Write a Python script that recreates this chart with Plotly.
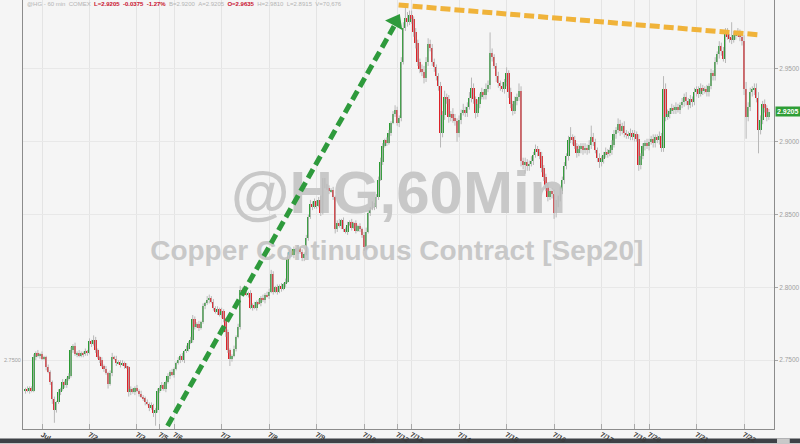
import plotly.graph_objects as go

# ---------------- data (hourly bars, HG Sep20 copper) ----------------
closes = [
    2.730, 2.729, 2.731, 2.729, 2.752, 2.755, 2.753, 2.754, 2.751, 2.752, 2.745, 2.742, 2.735, 2.723, 2.716, 2.721, 2.728, 2.730, 2.735, 2.733,
    2.737, 2.739, 2.757, 2.760, 2.754, 2.755, 2.753, 2.755, 2.754, 2.756, 2.755, 2.763, 2.761, 2.764, 2.757, 2.752, 2.750, 2.746, 2.744, 2.741,
    2.7335, 2.741, 2.752, 2.751, 2.748, 2.749, 2.747, 2.748, 2.746, 2.745, 2.728, 2.730, 2.728, 2.731, 2.729, 2.727, 2.725, 2.724, 2.721, 2.720,
    2.717, 2.719, 2.714, 2.716, 2.7285, 2.731, 2.733, 2.730, 2.735, 2.739, 2.742, 2.740, 2.744, 2.748, 2.750, 2.753, 2.750, 2.756, 2.758, 2.762,
    2.764, 2.778, 2.773, 2.775, 2.772, 2.776, 2.787, 2.789, 2.791, 2.793, 2.790, 2.786, 2.783, 2.785, 2.781, 2.784, 2.778, 2.769, 2.757, 2.751,
    2.753, 2.758, 2.766, 2.773, 2.798, 2.797, 2.799, 2.795, 2.796, 2.786, 2.788, 2.786, 2.790, 2.789, 2.793, 2.791, 2.795, 2.794, 2.797, 2.809,
    2.797, 2.800, 2.797, 2.801, 2.799, 2.802, 2.804, 2.821, 2.824, 2.822, 2.826, 2.825, 2.827, 2.824, 2.820, 2.823, 2.834, 2.848, 2.857, 2.855,
    2.859, 2.856, 2.860, 2.851, 2.873, 2.870, 2.868, 2.866, 2.867, 2.862, 2.840, 2.844, 2.842, 2.846, 2.840, 2.838, 2.843, 2.845, 2.841, 2.844,
    2.839, 2.842, 2.840, 2.836, 2.828, 2.838, 2.851, 2.854, 2.857, 2.855, 2.862, 2.874, 2.886, 2.897, 2.901, 2.899, 2.906, 2.913, 2.919, 2.922,
    2.913, 2.916, 2.955, 2.978, 2.985, 2.982, 2.987, 2.984, 2.975, 2.968, 2.955, 2.950, 2.948, 2.944, 2.955, 2.967, 2.964, 2.955, 2.951, 2.945,
    2.938, 2.906, 2.918, 2.931, 2.929, 2.917, 2.919, 2.916, 2.914, 2.906, 2.915, 2.920, 2.922, 2.920, 2.924, 2.930, 2.937, 2.929, 2.920, 2.926,
    2.931, 2.934, 2.932, 2.936, 2.939, 2.961, 2.958, 2.952, 2.945, 2.940, 2.938, 2.936, 2.941, 2.947, 2.934, 2.926, 2.921, 2.928, 2.931, 2.935,
    2.887, 2.884, 2.886, 2.883, 2.885, 2.887, 2.891, 2.895, 2.893, 2.890, 2.882, 2.876, 2.869, 2.862, 2.866, 2.864, 2.851, 2.858, 2.861, 2.866,
    2.874, 2.883, 2.890, 2.901, 2.903, 2.901, 2.897, 2.892, 2.895, 2.897, 2.894, 2.896, 2.894, 2.898, 2.903, 2.900, 2.894, 2.889, 2.886, 2.888,
    2.891, 2.893, 2.892, 2.894, 2.898, 2.905, 2.908, 2.912, 2.907, 2.911, 2.906, 2.905, 2.904, 2.906, 2.903, 2.905, 2.902, 2.884, 2.890, 2.897,
    2.899, 2.897, 2.900, 2.902, 2.899, 2.903, 2.901, 2.904, 2.896, 2.936, 2.917, 2.919, 2.921, 2.923, 2.922, 2.924, 2.922, 2.925, 2.927, 2.931,
    2.928, 2.925, 2.929, 2.927, 2.934, 2.936, 2.933, 2.937, 2.935, 2.936, 2.934, 2.938, 2.947, 2.945, 2.955, 2.960, 2.966, 2.962, 2.957, 2.975,
    2.972, 2.971, 2.970, 2.973, 2.974, 2.975, 2.972, 2.969, 2.936, 2.917, 2.924, 2.934, 2.936, 2.937, 2.930, 2.908, 2.915, 2.926, 2.923, 2.917,
    2.9205,
]
first_open = 2.729

# wick lengths above / below each body, in units of 0.001
wick_up = [
    1, 2, 1, 1, 2, 1, 2, 1, 2, 1, 1, 2, 1, 1, 2, 1, 2, 1, 2, 1,
    1, 2, 2, 1, 2, 1, 2, 1, 1, 2, 1, 2, 1, 3, 2, 1, 1, 2, 1, 2,
    1, 2, 3, 1, 2, 1, 1, 2, 1, 2, 1, 2, 1, 1, 2, 1, 2, 1, 1, 2,
    1, 2, 1, 1, 2, 1, 2, 1, 1, 2, 1, 2, 1, 1, 2, 1, 2, 1, 2, 1,
    2, 3, 2, 1, 2, 1, 2, 1, 3, 2, 1, 2, 1, 2, 1, 2, 1, 1, 2, 1,
    1, 2, 1, 2, 3, 2, 1, 2, 1, 2, 1, 2, 1, 2, 1, 2, 1, 2, 2, 3,
    2, 1, 2, 1, 2, 1, 2, 3, 2, 1, 2, 1, 2, 1, 2, 1, 2, 2, 3, 2,
    2, 1, 2, 3, 2, 2, 1, 2, 1, 2, 1, 2, 3, 1, 2, 1, 2, 1, 2, 1,
    2, 1, 2, 1, 2, 3, 2, 1, 2, 1, 2, 2, 3, 2, 1, 2, 2, 1, 2, 3,
    2, 2, 3, 4, 8, 4, 3, 3, 2, 3, 2, 2, 3, 4, 3, 4, 3, 3, 2, 2,
    2, 3, 3, 4, 2, 3, 2, 4, 3, 2, 3, 2, 4, 2, 3, 4, 7, 3, 2, 3,
    2, 3, 2, 4, 3, 14, 3, 2, 2, 3, 2, 3, 2, 4, 2, 3, 2, 3, 2, 5,
    3, 2, 3, 2, 2, 3, 2, 3, 2, 2, 3, 2, 2, 3, 2, 2, 3, 2, 2, 3,
    2, 3, 2, 3, 7, 2, 3, 2, 3, 2, 2, 3, 2, 3, 8, 3, 2, 2, 3, 2,
    2, 3, 2, 2, 3, 3, 2, 4, 3, 2, 3, 2, 2, 3, 2, 3, 2, 3, 2, 2,
    2, 3, 2, 2, 3, 2, 2, 3, 2, 9, 4, 3, 2, 3, 2, 3, 2, 2, 3, 2,
    3, 2, 3, 2, 3, 2, 2, 3, 2, 2, 3, 2, 3, 2, 3, 2, 3, 2, 3, 3,
    3, 2, 11, 3, 2, 3, 2, 3, 4, 5, 3, 3, 2, 3, 3, 4, 3, 2, 3, 2,
    2,
]
wick_dn = [
    2, 1, 2, 1, 1, 2, 1, 2, 1, 1, 2, 1, 2, 3, 9, 2, 1, 2, 1, 2,
    2, 1, 1, 2, 1, 2, 1, 1, 2, 1, 2, 1, 2, 1, 2, 1, 2, 1, 2, 1,
    3, 1, 2, 1, 2, 1, 2, 1, 2, 1, 3, 2, 1, 2, 1, 2, 1, 2, 2, 1,
    2, 1, 3, 9, 2, 1, 2, 1, 2, 1, 2, 1, 2, 1, 1, 2, 1, 2, 1, 2,
    1, 2, 2, 1, 2, 1, 1, 2, 1, 2, 1, 2, 1, 2, 1, 2, 2, 3, 2, 5,
    2, 1, 2, 1, 2, 1, 2, 1, 2, 1, 2, 1, 2, 1, 2, 1, 2, 1, 2, 1,
    2, 1, 2, 1, 2, 1, 2, 1, 2, 1, 2, 1, 2, 1, 2, 2, 1, 2, 1, 2,
    1, 2, 1, 2, 1, 2, 1, 2, 1, 2, 3, 2, 1, 2, 2, 1, 2, 1, 2, 1,
    2, 1, 2, 2, 3, 2, 1, 2, 1, 2, 1, 2, 1, 2, 1, 2, 1, 2, 1, 2,
    2, 3, 2, 2, 2, 3, 2, 3, 3, 4, 3, 3, 3, 4, 3, 3, 2, 3, 3, 3,
    3, 10, 3, 3, 3, 4, 3, 3, 3, 6, 3, 3, 2, 3, 3, 2, 3, 3, 4, 3,
    3, 2, 3, 3, 2, 3, 3, 2, 4, 3, 3, 2, 3, 3, 4, 3, 3, 2, 3, 3,
    4, 3, 6, 3, 3, 2, 3, 2, 3, 2, 3, 3, 3, 3, 2, 3, 4, 3, 3, 2,
    2, 3, 2, 3, 2, 3, 2, 3, 2, 3, 3, 2, 3, 2, 3, 3, 2, 3, 4, 3,
    3, 2, 3, 2, 3, 2, 3, 2, 3, 2, 3, 3, 2, 3, 2, 3, 2, 4, 3, 2,
    3, 2, 3, 2, 3, 3, 2, 3, 3, 3, 3, 2, 3, 2, 3, 3, 2, 3, 2, 3,
    3, 3, 2, 3, 2, 3, 3, 2, 3, 2, 3, 3, 2, 3, 3, 2, 3, 3, 2, 3,
    2, 3, 3, 2, 3, 2, 3, 3, 4, 15, 3, 3, 3, 4, 3, 16, 3, 3, 3, 3,
    2,
]

# day-start bar positions and their labels
tick_idx = [8, 31, 54, 65, 72, 95, 118, 141, 164, 180, 187, 210, 233, 256, 279, 295, 302, 325, 348]
tick_lbl = ["Jul", "7/2", "7/3", "7/5", "7/6", "7/7", "7/8", "7/9", "7/10", "7/12",
            "7/13", "7/14", "7/15", "7/16", "7/17", "7/19", "7/20", "7/21", "7/22"]
price_ticks = [2.75, 2.80, 2.85, 2.90, 2.95]
last_price = 2.9205

# annotation lines drawn on the chart: (bar index, price)
green_arrow = [(68.8, 2.7048), (180.7, 2.9877)]
orange_line = [(180.7, 2.9938), (355.7, 2.9733)]

# ---------------- derived ----------------
n = len(closes)
idx = list(range(n))
opens = [first_open] + closes[:-1]
highs = [max(o, c) + u * 0.001 for o, c, u in zip(opens, closes, wick_up)]
lows = [min(o, c) - d * 0.001 for o, c, d in zip(opens, closes, wick_dn)]

GREEN = "#2a9a32"
RED = "#dc2228"
body_base = [min(o, c) for o, c in zip(opens, closes)]
body_len = [max(abs(c - o), 0.0006) for o, c in zip(opens, closes)]
body_col = [GREEN if c >= o else RED for o, c in zip(opens, closes)]

wx, wy = [], []
for i, h, l in zip(idx, highs, lows):
    wx += [i, i, None]
    wy += [l, h, None]

Y0, Y1 = 2.70274, 2.99726
X0, X1 = -1.2, 362.5

fig = go.Figure()

# watermark (below the candles)
fig.add_trace(go.Scatter(
    x=[180.7], y=[2.8615], mode="text", text=["<b>@HG,60Min</b>"],
    textfont=dict(family="Liberation Sans, Arial", size=60, color="#c8c8c8"),
    hoverinfo="skip", showlegend=False))
fig.add_trace(go.Scatter(
    x=[179.8], y=[2.8235], mode="text", text=["<b>Copper Continuous Contract [Sep20]</b>"],
    textfont=dict(family="Liberation Sans, Arial", size=28, color="#c8c8c8"),
    hoverinfo="skip", showlegend=False))

# wicks
fig.add_trace(go.Scatter(x=wx, y=wy, mode="lines",
                         line=dict(color="#b8b8b8", width=1),
                         hoverinfo="skip", showlegend=False))
# bodies
fig.add_trace(go.Bar(x=idx, y=body_len, base=body_base, width=0.95,
                     marker=dict(color=body_col, line=dict(width=0)),
                     hoverinfo="skip", showlegend=False))

# green arrow head
(gx0, gy0), (gx1, gy1) = green_arrow
fig.add_trace(go.Scatter(x=[gx1 - 1.4], y=[gy1 - 0.0052], mode="markers",
                         marker=dict(symbol="triangle-up", size=17, angle=29, color="#2e9a3c",
                                     line=dict(width=0)),
                         hoverinfo="skip", showlegend=False))

shapes = [
    dict(type="line", xref="x", yref="y", x0=gx0, y0=gy0, x1=gx1 - 2.2, y1=gy1 - 0.0085,
         line=dict(color="#2e9a3c", width=5, dash="10px,5px")),
    dict(type="line", xref="x", yref="y", x0=orange_line[0][0], y0=orange_line[0][1],
         x1=orange_line[1][0], y1=orange_line[1][1],
         line=dict(color="#f0b33a", width=5, dash="10px,4px")),
    # bottom scroll bar (drawn under the tick labels)
    dict(type="rect", xref="paper", yref="paper", x0=-0.04, x1=1.04, y0=-0.0330, y1=-0.0221,
         fillcolor="#3d4146", line=dict(width=0), layer="below"),
    dict(type="rect", xref="paper", yref="paper", x0=1.004, x1=1.021, y0=-0.0330, y1=-0.0221,
         fillcolor="#c9c9c9", line=dict(width=0), layer="below"),
]

header = ("<span style='color:#b4b4b4'>@HG - 60 min&nbsp;&nbsp;COMEX&nbsp;&nbsp;</span>"
          "<span style='color:#c8102e'><b>L=2.9205&nbsp;&nbsp;-0.0375&nbsp;&nbsp;-1.27%</b></span>"
          "<span style='color:#b4b4b4'>&nbsp;&nbsp;B=2.9200&nbsp;&nbsp;A=2.9205&nbsp;&nbsp;</span>"
          "<span style='color:#c8102e'><b>O=2.9635</b></span>"
          "<span style='color:#b4b4b4'>&nbsp;&nbsp;H=2.9810&nbsp;&nbsp;L=2.8915&nbsp;&nbsp;V=70,676</span>")

annotations = [
    dict(text=header, xref="x", yref="paper", x=0, y=1, xanchor="left", yanchor="top",
         yshift=1, showarrow=False, align="left",
         font=dict(family="Liberation Sans, Arial", size=6)),
    dict(text="<b>%.4f</b>" % last_price, xref="paper", yref="y", x=1, y=last_price,
         xanchor="left", yanchor="middle", xshift=1, showarrow=False, bgcolor="#2e9e36",
         borderpad=1, font=dict(family="Liberation Sans, Arial", size=7, color="white")),
    dict(text="2.7500", xref="paper", yref="y", x=0, y=2.75, xanchor="right", yanchor="middle",
         xshift=-1, showarrow=False, borderpad=0,
         font=dict(family="Liberation Sans, Arial", size=5.5, color="#a0a0a0")),
]

fig.update_layout(
    width=800, height=444,
    margin=dict(l=23, r=23, t=0, b=14),
    paper_bgcolor="#f5f5f5", plot_bgcolor="#f5f5f5",
    showlegend=False, bargap=0,
    shapes=shapes, annotations=annotations,
    xaxis=dict(range=[X0, X1], tickvals=tick_idx, ticktext=["<b>%s</b>" % t for t in tick_lbl],
               showgrid=True, gridcolor="#e4e4e4", gridwidth=1, zeroline=False,
               showline=True, linecolor="#8c8c8c", linewidth=1,
               ticks="inside", ticklen=5, tickcolor="#a8a8a8", ticklabelstandoff=-2,
               tickfont=dict(family="Liberation Sans, Arial", size=7, color="#3a3a3a")),
    yaxis=dict(range=[Y0, Y1], side="right", tickvals=price_ticks,
               ticktext=["%.4f" % v for v in price_ticks],
               showgrid=True, gridcolor="#e8e8e8", zeroline=False,
               showline=True, mirror=True, linecolor="#8c8c8c", linewidth=1,
               ticks="outside", ticklen=3, tickcolor="#a8a8a8",
               tickfont=dict(family="Liberation Sans, Arial", size=6.5, color="#a0a0a0")),
)

fig.write_html("out.html", config={"displayModeBar": False},
               post_script="document.body.style.margin='0';")
